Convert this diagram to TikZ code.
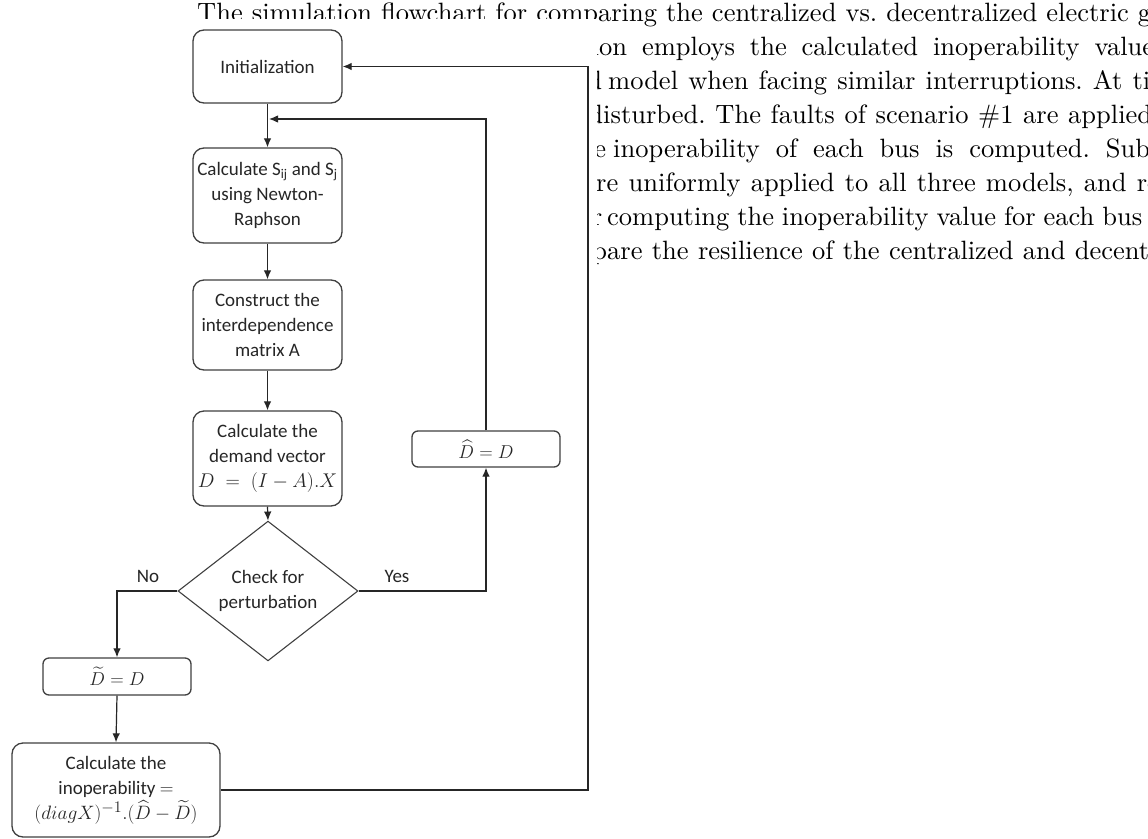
\documentclass[tikz,border=0pt]{standalone}
\usepackage{amsmath}
\usepackage{graphicx}
\usepackage{fontspec}
\newfontfamily\flowfont{Carlito}
\newfontfamily\bodyfont{lmroman10-regular.otf}
\usetikzlibrary{arrows.meta,shapes.geometric}
% formulas inside the flowchart boxes
\newcommand{\boxmath}[2][1]{\scalebox{#1}{$#2$}}

\begin{document}
\begin{tikzpicture}[x=1pt,y=-1pt,
  bodyline/.style={anchor=base west,inner sep=0pt,
    font=\bodyfont\fontsize{26.5}{34}\selectfont\frenchspacing},
  procbox/.style={draw=black!75,line width=1.3pt,rounded corners=11pt,fill=white,
    inner sep=0pt,align=center,text=black!85,
    font=\flowfont\fontsize{19}{25}\selectfont},
  smallbox/.style={procbox,rounded corners=6pt},
  decision/.style={draw=black!75,line width=1.1pt,shape=diamond,fill=white,
    inner sep=0pt,align=center,text=black!85,
    font=\flowfont\fontsize{19}{25}\selectfont},
  flowlabel/.style={text=black!85,font=\flowfont\fontsize{19}{25}\selectfont,inner sep=0pt},
  arr/.style={draw=black!85,line width=1.2pt,-{Latex[length=9pt,width=7.5pt]}}]

\useasboundingbox (0,0) rectangle (1148,838);
\clip (0,0) rectangle (1148,838);

% running text of the page
\node[bodyline] (t1) at (197,21.5) {\makebox[954pt][s]{The simulation flowchart for comparing the centralized vs. decentralized electric g}rid};
\node[bodyline] (t2) at (599,55.5)  {\llap{i}\makebox[555pt][s]{on employs the calculated inoperability value}s};
\node[bodyline] (t3) at (608,89.5)  {\llap{d\kern6pt}\makebox[542pt][s]{model when facing similar interruptions. At ti}me};
\node[bodyline] (t4) at (603,123.5) {\llap{d}\makebox[549pt][s]{isturbed. The faults of scenario \#1 are applied}};
\node[bodyline] (t5) at (613,157.5) {\llap{the\kern7pt}\makebox[537pt][s]{inoperability of each bus is computed. Sub}sequently};
\node[bodyline] (t6) at (596,191.5) {\llap{a}\makebox[551pt][s]{re uniformly applied to all three models, and r}esults};
\node[bodyline] (t7) at (607,225.5) {\llap{after\kern5pt}\makebox[535pt][s]{computing the inoperability value for each bus}};
\node[bodyline] (t8) at (607,259.5) {\llap{comp}\makebox[542pt][s]{are the resilience of the centralized and decent}ralized};

% white area of the figure
\fill[white] (0,18.5) -- (597,18.5) -- (597,838) -- (0,838) -- cycle;

% flowchart
\node[procbox,minimum width=149pt,minimum height=73pt] (init) at (267.5,66.5) {Initialization};
\node[procbox,minimum width=149pt,minimum height=95pt] (calc) at (267.5,195.5)
  {Calculate S\textsubscript{ij} and S\textsubscript{j}\\using Newton-\\Raphson};
\node[procbox,minimum width=149pt,minimum height=90pt] (cons) at (267.5,325)
  {Construct the\\interdependence\\matrix A};
\node[procbox,minimum width=149pt,minimum height=95pt] (dem) at (267.5,458.5)
  {Calculate the\\demand vector\\\boxmath[1.15]{D\;=\;(I-A).X}};
\node[decision,minimum width=180pt,minimum height=99pt] (chk) at (268,591)
  {Check for\\perturbation};
\node[smallbox,minimum width=148pt,minimum height=36pt] (dhat) at (486,449) {\boxmath[1.08]{\widehat{D}=D}};
\node[smallbox,minimum width=148pt,minimum height=37pt] (dtil) at (117,676.5) {\boxmath[1.08]{\widetilde{D}=D}};
\node[procbox,minimum width=208pt,minimum height=94pt] (inop) at (116,790)
  {Calculate the\\inoperability \boxmath[1.1]{=}\\\boxmath[1.12]{(diagX)^{-1}.(\widehat{D}-\widetilde{D})}};

\node[flowlabel] (no) at (148,576) {No};
\node[flowlabel] (yes) at (397,576) {Yes};

\coordinate (jn) at (269,119);
\coordinate (rt) at (588,790);

\draw[arr] (init.south) -- (calc.north);
\draw[arr] (calc.south) -- (cons.north);
\draw[arr] (cons.south) -- (dem.north);
\draw[arr] (dem.south) -- (chk.north);
\draw[arr] (chk.east) -| (dhat.south);
\draw[arr] (dhat.north) |- (jn);
\draw[arr] (chk.west) -| (dtil.north);
\draw[arr] (dtil.south) -- (inop.north);
\draw[arr] (inop.east) -- (rt) |- (init.east);
\end{tikzpicture}
\end{document}
